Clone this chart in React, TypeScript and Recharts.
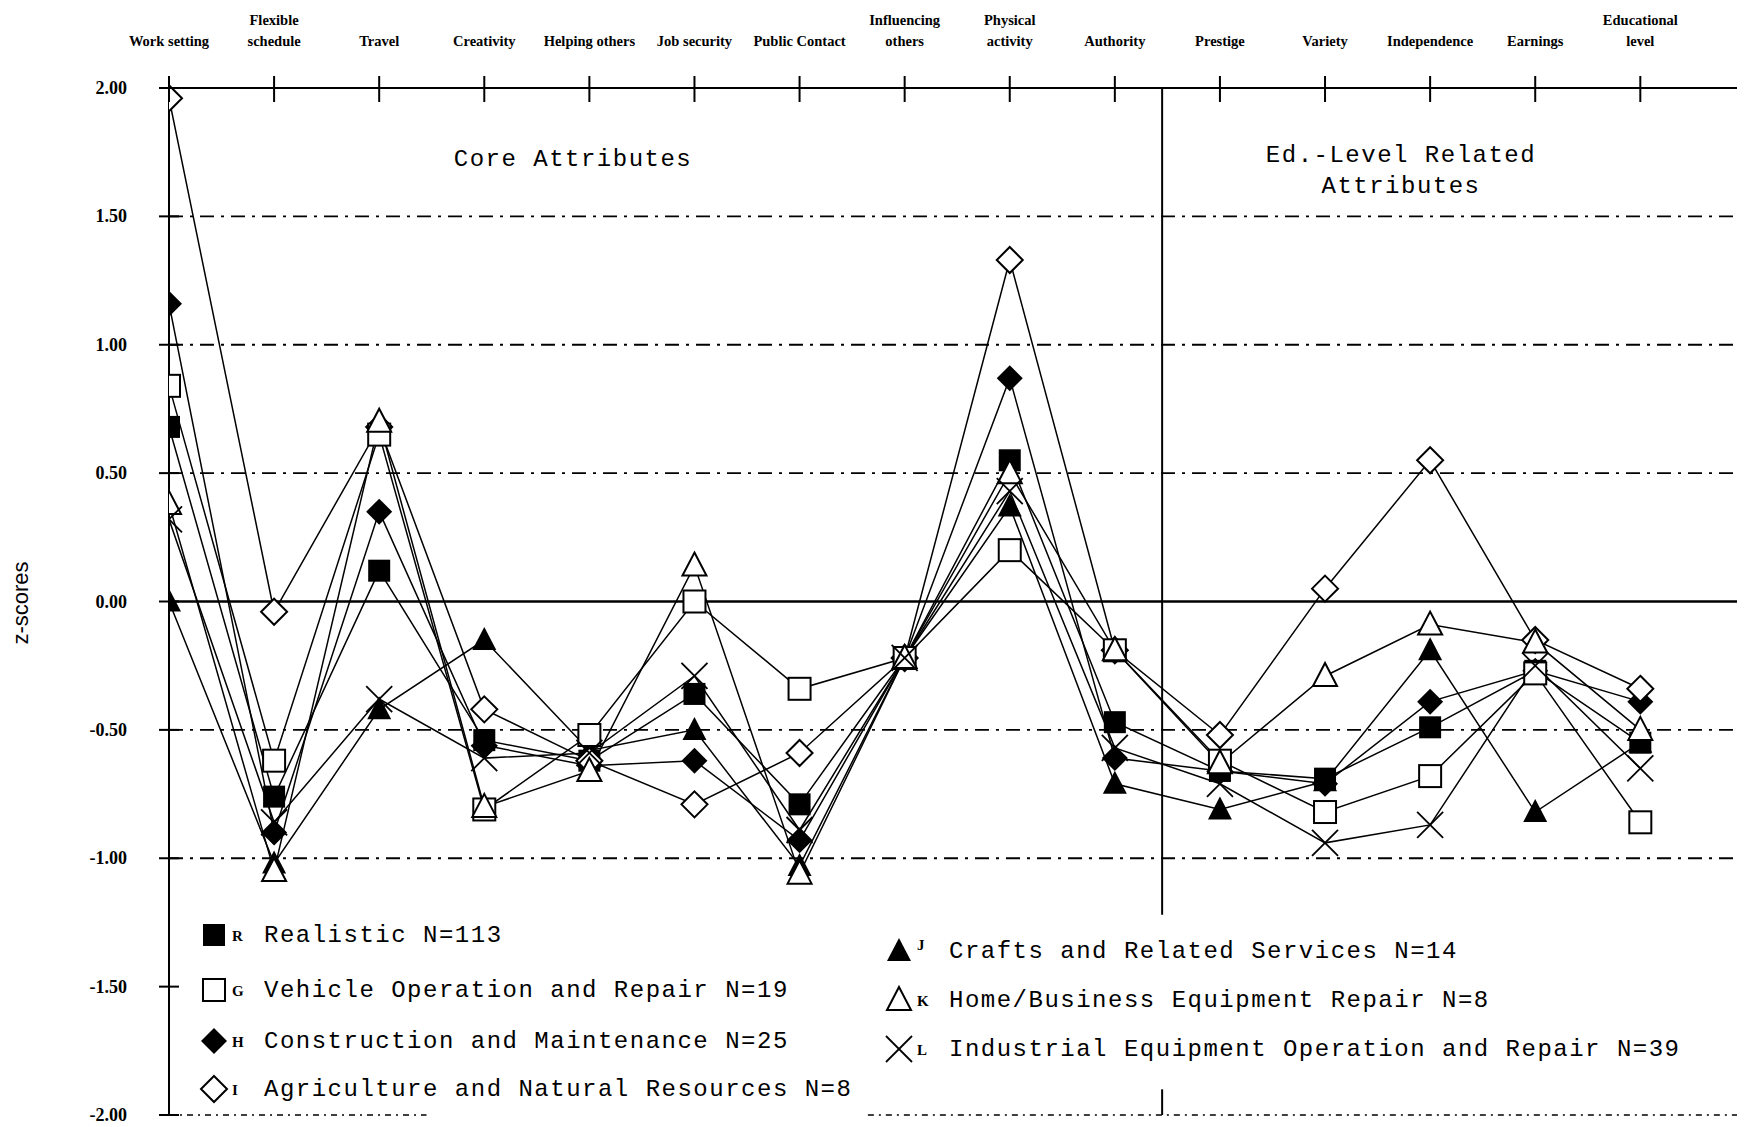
import React from 'react'
import { LineChart, Line, XAxis, YAxis, ReferenceLine } from 'recharts'

const categories = [
  'Work setting', 'Flexible schedule', 'Travel', 'Creativity', 'Helping others',
  'Job security', 'Public Contact', 'Influencing others', 'Physical activity', 'Authority',
  'Prestige', 'Variety', 'Independence', 'Earnings', 'Educational level',
]

// how each category label wraps on the top axis
const labelLines: string[][] = [
  ['Work setting'], ['Flexible', 'schedule'], ['Travel'], ['Creativity'], ['Helping others'],
  ['Job security'], ['Public Contact'], ['Influencing', 'others'], ['Physical', 'activity'], ['Authority'],
  ['Prestige'], ['Variety'], ['Independence'], ['Earnings'], ['Educational', 'level'],
]

const yTicks = [2, 1.5, 1, 0.5, 0, -0.5, -1, -1.5, -2]
const dashDotLevels = [1.5, 1, 0.5, -0.5, -1]

const realistic = [0.68, -0.76, 0.12, -0.54, -0.62, -0.36, -0.79, -0.22, 0.55, -0.47, -0.66, -0.69, -0.49, -0.27, -0.55]
const vehicle = [0.84, -0.62, 0.65, -0.81, -0.52, 0.0, -0.34, -0.22, 0.2, -0.19, -0.62, -0.82, -0.68, -0.28, -0.86]
const construction = [1.16, -0.9, 0.35, -0.56, -0.64, -0.62, -0.93, -0.22, 0.87, -0.61, -0.66, -0.71, -0.39, -0.27, -0.39]
const agriculture = [1.96, -0.04, 0.68, -0.42, -0.62, -0.79, -0.59, -0.22, 1.33, -0.19, -0.52, 0.05, 0.55, -0.15, -0.34]
const crafts = [0.0, -1.02, -0.42, -0.15, -0.58, -0.5, -1.03, -0.22, 0.37, -0.71, -0.81, -0.7, -0.19, -0.82, -0.55]
const homeBusiness = [0.38, -1.05, 0.7, -0.8, -0.66, 0.14, -1.06, -0.22, 0.5, -0.19, -0.63, -0.29, -0.09, -0.16, -0.5]
const industrial = [0.32, -0.86, -0.38, -0.61, -0.59, -0.29, -0.89, -0.22, 0.43, -0.57, -0.71, -0.94, -0.87, -0.25, -0.65]

type Shape = 'fsq' | 'osq' | 'fdia' | 'odia' | 'ftri' | 'otri' | 'x'

const series: { key: string; letter: string; label: string; shape: Shape; values: number[] }[] = [
  { key: 'J', letter: 'J', label: 'Crafts and Related Services N=14', shape: 'ftri', values: crafts },
  { key: 'R', letter: 'R', label: 'Realistic N=113', shape: 'fsq', values: realistic },
  { key: 'H', letter: 'H', label: 'Construction and Maintenance N=25', shape: 'fdia', values: construction },
  { key: 'I', letter: 'I', label: 'Agriculture and Natural Resources N=8', shape: 'odia', values: agriculture },
  { key: 'G', letter: 'G', label: 'Vehicle Operation and Repair N=19', shape: 'osq', values: vehicle },
  { key: 'K', letter: 'K', label: 'Home/Business Equipment Repair N=8', shape: 'otri', values: homeBusiness },
  { key: 'L', letter: 'L', label: 'Industrial Equipment Operation and Repair N=39', shape: 'x', values: industrial },
]

const leftLegend = ['R', 'G', 'H', 'I']
const rightLegend = ['J', 'K', 'L']

const data = categories.map((name, i) => {
  const row: Record<string, number | string> = { x: i, name }
  series.forEach(s => { row[s.key] = s.values[i] })
  return row
})

const W = 1729
const H = 1119
const mono = '"Liberation Mono", "DejaVu Sans Mono", monospace'
const serif = '"Liberation Serif", "DejaVu Serif", serif'

function marker(shape: Shape, cx: number, cy: number, key?: React.Key) {
  const s = 11
  switch (shape) {
    case 'fsq':
      return <rect key={key} x={cx - s} y={cy - s} width={2 * s} height={2 * s} fill="#000" />
    case 'osq':
      return <rect key={key} x={cx - s} y={cy - s} width={2 * s} height={2 * s} fill="#fff" stroke="#000" strokeWidth={2} />
    case 'fdia':
      return <polygon key={key} points={`${cx},${cy - 13} ${cx + 13},${cy} ${cx},${cy + 13} ${cx - 13},${cy}`} fill="#000" />
    case 'odia':
      return <polygon key={key} points={`${cx},${cy - 13} ${cx + 13},${cy} ${cx},${cy + 13} ${cx - 13},${cy}`} fill="#fff" stroke="#000" strokeWidth={2} />
    case 'ftri':
      return <polygon key={key} points={`${cx},${cy - 13} ${cx + 12},${cy + 10} ${cx - 12},${cy + 10}`} fill="#000" />
    case 'otri':
      return <polygon key={key} points={`${cx},${cy - 13} ${cx + 12},${cy + 10} ${cx - 12},${cy + 10}`} fill="#fff" stroke="#000" strokeWidth={2} />
    default:
      return (
        <g key={key}>
          <line x1={cx - 13} y1={cy - 13} x2={cx + 13} y2={cy + 13} stroke="#000" strokeWidth={1.8} />
          <line x1={cx - 13} y1={cy + 13} x2={cx + 13} y2={cy - 13} stroke="#000" strokeWidth={1.8} />
        </g>
      )
  }
}

const XTick = (props: any) => {
  const { x, y, payload } = props
  const lines = labelLines[payload.value] ?? []
  return (
    <g>
      <line x1={x} x2={x} y1={y - 12} y2={y + 14} stroke="#000" strokeWidth={2} />
      {lines.map((t, i) => (
        <text key={i} x={x} y={y - 42 - (lines.length - 1 - i) * 21} textAnchor="middle"
          fontFamily={serif} fontWeight="bold" fontSize={14.5} fill="#000">
          {t}
        </text>
      ))}
    </g>
  )
}

const YTick = (props: any) => {
  const { x, y, payload } = props
  return (
    <g>
      <line x1={x - 10} x2={x + 10} y1={y} y2={y} stroke="#000" strokeWidth={2} />
      <text x={x - 42} y={y + 6} textAnchor="end" fontFamily={serif} fontWeight="bold" fontSize={18} fill="#000">
        {Number(payload.value).toFixed(2)}
      </text>
    </g>
  )
}

function LegendRow({ k, x, y, sup }: { k: string; x: number; y: number; sup?: boolean }) {
  const s = series.find(d => d.key === k)!
  return (
    <div style={{ position: 'absolute', left: x - 16, top: y - 18, height: 36, display: 'flex', alignItems: 'center', whiteSpace: 'nowrap' }}>
      <svg width={32} height={36}>{marker(s.shape, 16, 18)}</svg>
      <span style={{ fontFamily: serif, fontWeight: 'bold', fontSize: 15, width: 24, marginLeft: 2, position: 'relative', top: sup ? -6 : 1 }}>
        {s.letter}
      </span>
      <span style={{ fontFamily: mono, fontSize: 24, letterSpacing: 1.5, marginLeft: 8 }}>{s.label}</span>
    </div>
  )
}

export default function App() {
  return (
    <div style={{ position: 'relative', width: W, height: H, background: '#fff' }}>
      <style>{'body { overflow: hidden; } .recharts-surface { overflow: visible; }'}</style>
      <LineChart width={W} height={H} data={data} margin={{ top: 0, right: 0, left: 0, bottom: 12 }}>
        <XAxis dataKey="x" type="number" orientation="top" domain={[0, 14.92]} ticks={categories.map((_, i) => i)}
          height={80} tickSize={0} tickMargin={0} tickLine={false} tick={<XTick />}
          axisLine={{ stroke: '#000', strokeWidth: 2 }} allowDataOverflow />
        <YAxis type="number" domain={[-2, 2]} ticks={yTicks} width={161} tickSize={0} tickMargin={0}
          tickLine={false} tick={<YTick />} axisLine={{ stroke: '#000', strokeWidth: 2 }} interval={0} />
        {dashDotLevels.map(v => (
          <ReferenceLine key={v} y={v} stroke="#000" strokeWidth={1.8} strokeDasharray="14 7 3 7" />
        ))}
        <ReferenceLine y={0} stroke="#000" strokeWidth={2.4} />
        <ReferenceLine segment={[{ x: 0, y: -2 }, { x: 2.45, y: -2 }]} stroke="#000" strokeWidth={1.5} strokeDasharray="6 5 2 5" />
        <ReferenceLine segment={[{ x: 6.65, y: -2 }, { x: 14.92, y: -2 }]} stroke="#000" strokeWidth={1.5} strokeDasharray="6 5 2 5" />
        <ReferenceLine segment={[{ x: 9.45, y: 2 }, { x: 9.45, y: -1.22 }]} stroke="#000" strokeWidth={2} />
        <ReferenceLine segment={[{ x: 9.45, y: -1.9 }, { x: 9.45, y: -2 }]} stroke="#000" strokeWidth={2} />
        {series.map(s => (
          <Line key={s.key} dataKey={s.key} type="linear" stroke="#000" strokeWidth={1.5}
            isAnimationActive={false} activeDot={false}
            dot={(p: any) => marker(s.shape, p.cx, p.cy, `${s.key}-${p.index}`)} />
        ))}
      </LineChart>

      <div style={{ position: 'absolute', left: 565, top: 151, transform: 'translate(-50%, -50%)', fontFamily: mono, fontSize: 24, letterSpacing: 1.5, whiteSpace: 'nowrap' }}>
        Core Attributes
      </div>
      <div style={{ position: 'absolute', left: 1393, top: 132, transform: 'translateX(-50%)', fontFamily: mono, fontSize: 24, letterSpacing: 1.5, lineHeight: '31px', textAlign: 'center', whiteSpace: 'nowrap' }}>
        Ed.-Level Related<br />Attributes
      </div>
      <div style={{ position: 'absolute', left: 13, top: 595, transform: 'translate(-50%, -50%) rotate(-90deg)', fontFamily: '"Liberation Sans", Arial, sans-serif', fontSize: 22, whiteSpace: 'nowrap' }}>
        z-scores
      </div>

      {leftLegend.map((k, i) => (
        <LegendRow key={k} k={k} x={206} y={[927, 982, 1033, 1081][i]} />
      ))}
      {rightLegend.map((k, i) => (
        <LegendRow key={k} k={k} x={891} y={[943, 992, 1041][i]} sup={k === 'J'} />
      ))}
    </div>
  )
}
